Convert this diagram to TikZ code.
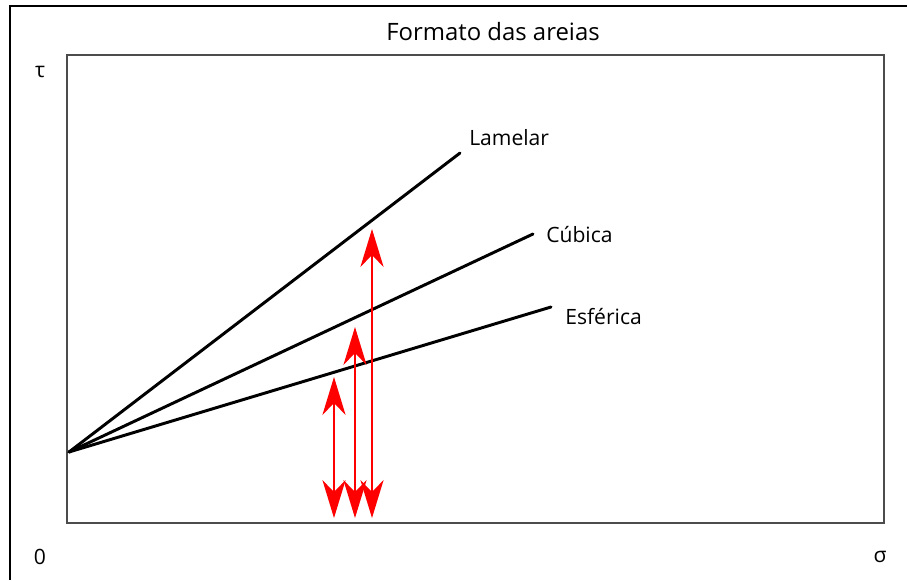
\documentclass[tikz,border=0pt]{standalone}
\usepackage{fontspec}
\setmainfont{Open Sans}
\usetikzlibrary{arrows.meta}

\tikzset{
  envelope/.style={line width=2.1pt, line cap=round},
  shear/.style={red, line width=1.1pt, {Stealth[length=0.95cm, width=0.58cm, inset=0.3cm]}-{Stealth[length=0.95cm, width=0.58cm, inset=0.3cm]}},
  tag/.style={anchor=west, inner sep=0pt}
}

\begin{document}
\begin{tikzpicture}[x=0.025cm, y=-0.025cm, font=\fontsize{15}{18}\selectfont]
        \useasboundingbox (0,0) rectangle (907,580);
        \draw[line width=1.4pt] (907,6) -- (10,6) -- (10,580);
        \draw[line width=1.6pt, black!70] (67,55) rectangle (884,523);

        \node (title) at (493,32) {\fontsize{17}{20}\selectfont Formato das areias};
        \node (tau) at (40,72) {τ};
        \node (zero) at (40,557) {0};
        \node (sigma) at (880,557) {σ};

        \coordinate (origin) at (69,452);
        \coordinate (lamEnd) at (460,153);
        \coordinate (cubEnd) at (533,234);
        \coordinate (esfEnd) at (551,307);
        \node[tag] (lamelar) at (469,138) {Lamelar};
        \node[tag] (cubica) at (546,235) {Cúbica};
        \node[tag] (esferica) at (565,317) {Esférica};

        \draw[envelope] (origin) -- (lamEnd);
        \draw[envelope] (origin) -- (cubEnd);
        \draw[envelope] (origin) -- (esfEnd);

        \coordinate (lowA) at (334,518);
        \coordinate (topA) at (334,377);
        \coordinate (lowB) at (355,518);
        \coordinate (topB) at (355,327);
        \coordinate (lowC) at (372,518);
        \coordinate (topC) at (372,229);
        \draw[shear] (lowA) -- (topA);
        \draw[shear] (lowB) -- (topB);
        \draw[shear] (lowC) -- (topC);
    \end{tikzpicture}
\end{document}
